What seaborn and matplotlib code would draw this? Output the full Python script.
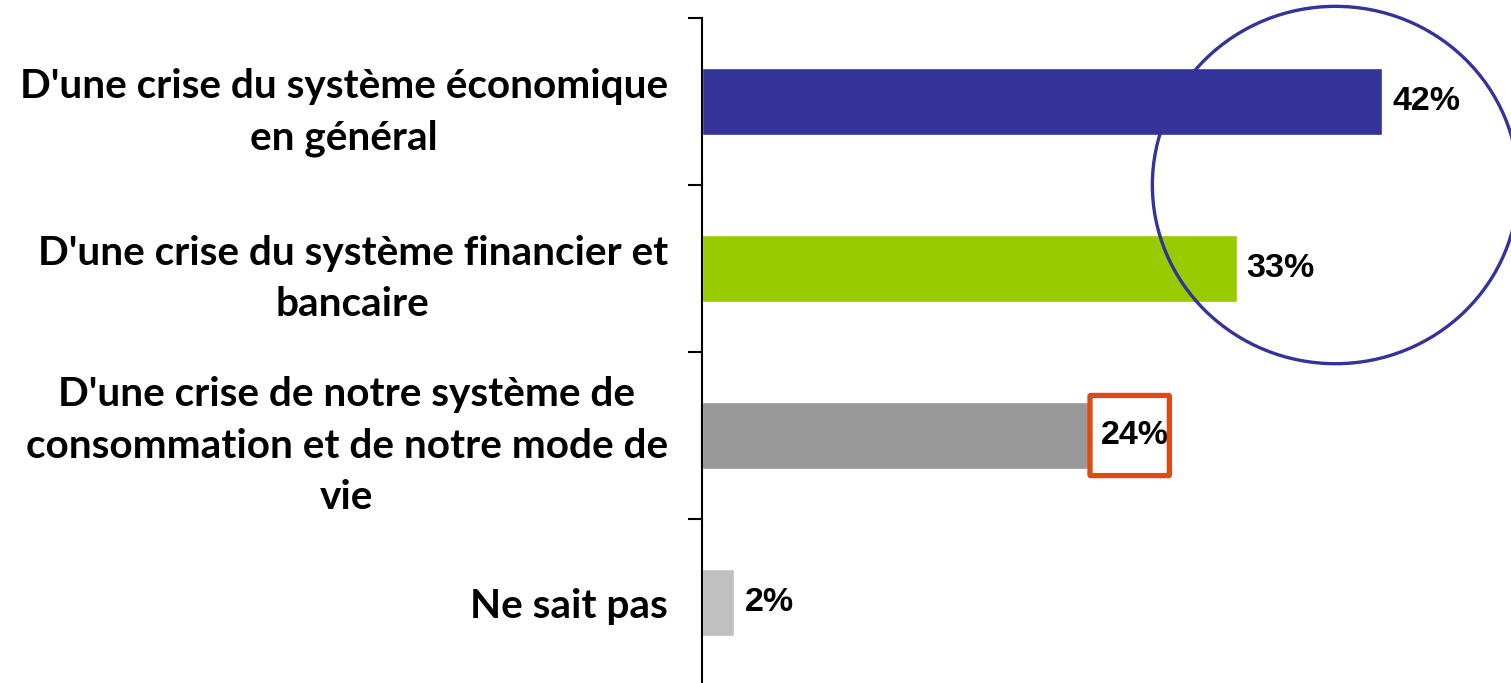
import matplotlib
matplotlib.use("Agg")
import matplotlib.pyplot as plt
from matplotlib.patches import Ellipse, FancyBboxPatch
import seaborn as sns
import pandas as pd

# data
categories = [
    "D'une crise du système économique\nen général",
    "D'une crise du système financier et\nbancaire",
    "D'une crise de notre système de\nconsommation et de notre mode de\nvie",
    "Ne sait pas",
]
values = [42, 33, 24, 2]
colors = ["#333399", "#99CC00", "#999999", "#C0C0C0"]

df = pd.DataFrame({"cat": categories, "pct": values})

sns.set_style("white")
plt.rcParams["font.family"] = ["Lato", "DejaVu Sans"]
plt.rcParams["text.color"] = "black"
plt.rcParams["ytick.color"] = "black"
plt.rcParams["ytick.labelcolor"] = "black"

fig = plt.figure(figsize=(15.11, 6.83), dpi=100)
ax = fig.add_axes([0.4646, -0.0044, 0.5354, 0.978])

sns.barplot(data=df, x="pct", y="cat", hue="cat", palette=colors,
            width=0.4, orient="h", legend=False, ax=ax, saturation=1)

ax.set_xlim(0, 49.94)
ax.set_xlabel("")
ax.set_ylabel("")
ax.set_xticks([])

for s in ["top", "right", "bottom"]:
    ax.spines[s].set_visible(False)
ax.spines["left"].set_linewidth(1.5)
ax.spines["left"].set_color("black")

# category labels centred on bars, ticks between categories
ax.set_yticks(range(len(categories)))
ax.set_yticklabels(categories, fontsize=29.2, fontweight="bold",
                   linespacing=1.48, color="black")
for lab in ax.get_yticklabels():
    lab.set_multialignment("center")
ax.set_yticks([i - 0.5 for i in range(len(categories) + 1)], minor=True)
ax.tick_params(axis="y", which="major", length=0, pad=24.5)
ax.tick_params(axis="y", which="minor", length=10, width=1.5, color="black",
               direction="out", left=True)

for i, v in enumerate(values):
    ax.text(v + 0.62, i, f"{v}%", va="center", ha="left", fontsize=24.5,
            fontweight="bold", family="Liberation Sans", color="black")

# highlight shapes
ax.add_patch(Ellipse((39.1, 0.50), 22.6, 2.14, fill=False, clip_on=False,
                     edgecolor="#333399", linewidth=2.4, zorder=5))
ax.add_patch(FancyBboxPatch((23.95, 1.76), 4.9, 0.48,
                            boxstyle="round,pad=0,rounding_size=0.05",
                            fill=False, edgecolor="#E04A12", linewidth=3.8,
                            zorder=5, mutation_aspect=0.1))

fig.savefig("out.png", dpi=100)
